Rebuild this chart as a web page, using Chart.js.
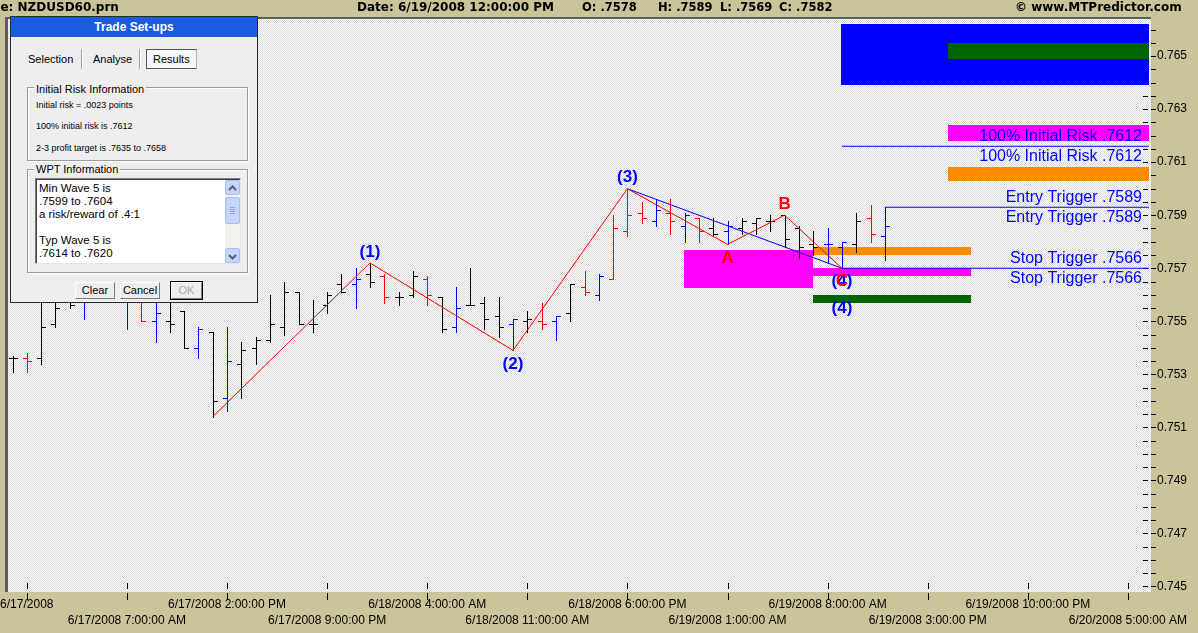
<!DOCTYPE html>
<html>
<head>
<meta charset="utf-8">
<script src="https://cdn.jsdelivr.net/npm/chart.js@4.4.1/dist/chart.umd.min.js"></script>
<style>
  body { margin: 0; overflow: hidden; background: #C9C49A; }
  #wrap { position: relative; width: 1198px; height: 633px; overflow: hidden; }
  #chart { position: absolute; left: 0; top: 0; }
  .abs { position: absolute; }
  .stat { position: absolute; top: 0; line-height: 15px; font: bold 12px "DejaVu Sans"; color: #000; white-space: pre; }
  .val { font-size: 11.5px; }
  .t { position: absolute; font: 11px "Liberation Sans"; color: #000; white-space: pre; line-height: 14px; }
  .small { position: absolute; font: 9px "Liberation Sans"; color: #000; white-space: pre; line-height: 10px; }
  .group { position: absolute; border: 1px solid #9C9C9C; box-shadow: 1px 1px 0 #fff, inset 1px 1px 0 #fff; box-sizing: border-box; }
  .legend { background: #EEEEEE; padding: 0 2px; }
  .btn { position: absolute; top: 282px; height: 17px; box-sizing: border-box; background: #EEEEEE;
         border: 1px solid; border-color: #fff #7A7A7A #7A7A7A #fff; font: 11px "Liberation Sans";
         text-align: center; line-height: 15px; color: #000; }
  .sb { position: absolute; left: 225px; width: 15px; box-sizing: border-box; background: #C6D5FB;
        border: 1px solid #A9BEF3; border-radius: 2px; }
</style>
</head>
<body>
<div id="wrap">
  <canvas id="chart" width="1198" height="633"></canvas>

  <!-- status bar -->
  <div class="stat" style="left:-16px">File: NZDUSD60.prn</div>
  <div class="stat" style="left:357px">Date: 6/19/2008 12:00:00 PM</div>
  <div class="stat val" id="statO" style="left:582px"></div>
  <div class="stat val" id="statH" style="left:658px"></div>
  <div class="stat val" id="statL" style="left:720px"></div>
  <div class="stat val" id="statC" style="left:779px"></div>
  <div class="stat" style="left:1015px">© www.MTPredictor.com</div>

  <!-- Trade Set-ups dialog -->
  <div class="abs" style="left:10px;top:16px;width:248px;height:287px;border:1px solid #2A2A2A;background:#EEEEEE;box-sizing:border-box"></div>
  <div class="abs" style="left:11px;top:17px;width:246px;height:20px;background:#1A5CE0;color:#fff;font:bold 12px 'Liberation Sans';text-align:center;line-height:20px">Trade Set-ups</div>

  <div class="t" style="left:28px;top:52px">Selection</div>
  <div class="abs" style="left:81px;top:49px;width:1px;height:20px;background:#A0A0A0;box-shadow:1px 0 0 #fff"></div>
  <div class="t" style="left:93px;top:52px">Analyse</div>
  <div class="abs" style="left:139px;top:49px;width:1px;height:20px;background:#A0A0A0;box-shadow:1px 0 0 #fff"></div>
  <div class="abs" style="left:146px;top:49px;width:51px;height:20px;box-sizing:border-box;border:1px solid;border-color:#555 #B0B0B0 #555 #555;background:#F6F6F6"></div>
  <div class="t" style="left:153px;top:52px">Results</div>

  <div class="group" style="left:27px;top:87px;width:221px;height:74px"></div>
  <div class="t legend" style="left:34px;top:82px">Initial Risk Information</div>
  <div class="small" style="left:36px;top:100px">Initial risk = .0023 points</div>
  <div class="small" style="left:36px;top:121px">100% initial risk is .7612</div>
  <div class="small" style="left:36px;top:143px">2-3 profit target is .7635 to .7658</div>

  <div class="group" style="left:27px;top:169px;width:221px;height:104px"></div>
  <div class="t legend" style="left:34px;top:162px">WPT Information</div>
  <div class="abs" style="left:35px;top:178px;width:206px;height:86px;box-sizing:border-box;background:#fff;border:1px solid;border-color:#7A7A7A #E6E6E6 #E6E6E6 #7A7A7A;box-shadow:inset 1px 1px 0 #404040"></div>
  <div class="abs" style="left:39px;top:182px;font:11.5px 'Liberation Sans';line-height:13px;white-space:pre;color:#000">Min Wave 5 is
.7599 to .7604
a risk/reward of .4:1

Typ Wave 5 is
.7614 to .7620</div>
  <div class="abs" style="left:225px;top:180px;width:15px;height:83px;background:#F3F2EE"></div>
  <div class="sb" style="top:180px;height:15px"><svg width="13" height="13"><polyline points="3,8 6.5,4.5 10,8" fill="none" stroke="#4D6185" stroke-width="2"/></svg></div>
  <div class="sb" style="top:197px;height:27px"><svg width="13" height="25"><path d="M4 9.5h5M4 11.5h5M4 13.5h5M4 15.5h5" stroke="#8EA5E0" stroke-width="1"/></svg></div>
  <div class="sb" style="top:248px;height:15px"><svg width="13" height="13"><polyline points="3,5 6.5,8.5 10,5" fill="none" stroke="#4D6185" stroke-width="2"/></svg></div>

  <div class="btn" style="left:75px;width:40px">Clear</div>
  <div class="btn" style="left:120px;width:40px">Cancel</div>
  <div class="btn" style="left:171px;width:31px;outline:1px solid #000;color:#A8A8A8">OK</div>
</div>

<script>
// hourly bars, hour 0 = 6/17/2008 12:00 AM
const hours = [-1, 0, 1, 2, 3, 4, 5, 6, 7, 8, 9, 10, 11, 12, 13, 14, 15, 16, 17, 18, 19, 20,
  21, 22, 23, 24, 25, 26, 27, 28, 29, 30, 31, 32, 33, 34, 35, 36, 37, 38, 39, 40,
  41, 42, 43, 44, 45, 46, 47, 48, 49, 50, 51, 52, 53, 54, 55, 56, 57, 58, 59, 60];
const opens = [.7532, .7532, .7532, .7545, .7556, .7558, .7556, .7562, .7555, .7555, .7546, .7546, .7550, .7536, .7542, .7517, .7530, .7536, .7539, .7544, .7557, .7545,
  .7552, .7560, .7560, .7564, .7563, .7555, .7556, .7562, .7555, .7544, .7552, .7553, .7548, .7545, .7546, .7546, .7546, .7549, .7559, .7556,
  .7562, .7580, .7587, .7584, .7587, .7582, .7585, .7581, .7580, .7581, .7583, .7584, .7586, .7581, .7575, .7575, .7574, .7575, .7585, .7578];
const highs = [.7533, .7534, .7557, .7560, .7562, .7564, .7566, .7568, .7560, .7560, .7554, .7556, .7550, .7544, .7542, .7544, .7538, .7540, .7556, .7561, .7557, .7554,
  .7557, .7564, .7566, .7568, .7564, .7557, .7565, .7563, .7555, .7559, .7566, .7555, .7555, .7547, .7550, .7553, .7548, .7560, .7565, .7564,
  .7586, .7596, .7591, .7592, .7592, .7587, .7585, .7585, .7584, .7585, .7585, .7586, .7586, .7582, .7580, .7581, .7576, .7587, .7590, .7589];
const lows = [.7527, .7527, .7530, .7544, .7551, .7547, .7554, .7555, .7543, .7546, .7538, .7542, .7536, .7532, .7510, .7512, .7517, .7530, .7538, .7541, .7545, .7542,
  .7549, .7557, .7551, .7559, .7553, .7552, .7555, .7552, .7542, .7542, .7552, .7543, .7540, .7535, .7542, .7543, .7539, .7546, .7556, .7554,
  .7562, .7578, .7583, .7582, .7579, .7576, .7576, .7578, .7575, .7579, .7579, .7580, .7574, .7570, .7571, .7568, .7566, .7572, .7576, .7569];
const closes = [.7532, .7531, .7544, .7551, .7552, .7556, .7562, .7558, .7556, .7546, .7549, .7545, .7536, .7543, .7516, .7531, .7535, .7539, .7545, .7557, .7545, .7545,
  .7556, .7557, .7562, .7561, .7555, .7555, .7563, .7556, .7543, .7551, .7552, .7547, .7544, .7547, .7547, .7545, .7548, .7560, .7557, .7563,
  .7581, .7586, .7585, .7588, .7584, .7586, .7580, .7579, .7582, .7584, .7585, .7584, .7577, .7574, .7574, .7575, .7576, .7584, .7579, .7582];
// 0 = plain bar, 1 = red bar, 2 = blue bar
const barGroup = [0, 1, 0, 0, 0, 2, 0, 0, 2, 1, 2, 0, 0, 2, 0, 2, 0, 0, 0, 0, 0, 0,
  0, 0, 2, 0, 1, 0, 0, 1, 0, 2, 0, 0, 0, 2, 0, 1, 2, 0, 1, 2,
  1, 1, 1, 2, 1, 2, 1, 0, 2, 0, 0, 0, 0, 0, 0, 2, 2, 0, 1, 2];

// wave count
const waveHours = [13, 24, 34, 42, 49, 53, 57];
const wavePrices = [0.7510, 0.7568, 0.7535, 0.7596, 0.7575, 0.7586, 0.7566];
const waveNames = ['', '(1)', '(2)', '(3)', 'A', 'B', 'C'];

// trigger levels
const levelNames = ['100% Initial Risk', 'Entry Trigger', 'Stop Trigger'];
const levelPrices = [0.7612, 0.7589, 0.7566];
const levelStart = [57, 60, 57];

// target zones: profit target, wave 5 zones, and the lower zones
const zoneFrom = [56.95, 64.4, 64.4, 64.4, 45.95, 55, 55, 55];
const zoneTo = [78.47, 78.47, 78.47, 78.47, 54.97, 66, 66, 66];
const zoneLow = [0.7635, 0.7645, 0.7614, 0.7599, 0.75585, 0.7571, 0.7563, 0.7553];
const zoneHigh = [0.7658, 0.7651, 0.7620, 0.7604, 0.7573, 0.7574, 0.7566, 0.7556];
const zoneColors = ['#0000FF', '#006400', '#FF00FF', '#FF8C00', '#FF00FF', '#FF8C00', '#FF00FF', '#006400'];

// axes
const xTickHours = [0, 7, 14, 21, 28, 35, 42, 49, 56, 63, 70, 77];
const xTickLabels = ['6/17/2008', '6/17/2008 7:00:00 AM', '6/17/2008 2:00:00 PM', '6/17/2008 9:00:00 PM',
  '6/18/2008 4:00:00 AM', '6/18/2008 11:00:00 AM', '6/18/2008 6:00:00 PM', '6/19/2008 1:00:00 AM',
  '6/19/2008 8:00:00 AM', '6/19/2008 3:00:00 PM', '6/19/2008 10:00:00 PM', '6/20/2008 5:00:00 AM'];
const yTickLabels = ['0.745', '0.747', '0.749', '0.751', '0.753', '0.755', '0.757', '0.759', '0.761', '0.763', '0.765'];
const yLabelShift = 0.0004;   // the program prints its price labels 4 pips above their tick
const xMin = -1.315, xMax = 78.615;
const yMin = 0.74439, yMax = 0.7660;

const barColors = ['#000000', '#FF0000', '#0000FF'];
const fmt = v => v.toFixed(4).slice(1);

// status bar values come from the last bar
const last = hours.length - 1;
document.getElementById('statO').textContent = 'O: ' + fmt(opens[last]);
document.getElementById('statH').textContent = 'H: ' + fmt(highs[last]);
document.getElementById('statL').textContent = 'L: ' + fmt(lows[last]);
document.getElementById('statC').textContent = 'C: ' + fmt(closes[last]);

// minor ticks every .0005, a label every fourth one
const yTicks = [];
const firstTick = Number(yTickLabels[0]) - yLabelShift;
for (let k = 0; firstTick + k * 0.0005 <= yMax; k++) yTicks.push(+(firstTick + k * 0.0005).toFixed(5));

function dither(a, b) {
  const c = document.createElement('canvas');
  c.width = 2; c.height = 2;
  const g = c.getContext('2d');
  g.fillStyle = a; g.fillRect(0, 0, 2, 2);
  g.fillStyle = b; g.fillRect(0, 0, 1, 1); g.fillRect(1, 1, 1, 1);
  return g.createPattern(c, 'repeat');
}

const background = {
  id: 'background',
  beforeDraw(chart) {
    const {ctx, chartArea: a, width, height} = chart;
    ctx.save();
    ctx.fillStyle = '#C9C49A';
    ctx.fillRect(0, 0, width, height);
    ctx.fillStyle = dither('#FFFFFF', '#D8D8D8');
    ctx.fillRect(a.left, a.top, a.right - a.left, a.bottom - a.top);
    ctx.fillStyle = '#5E5E5E';
    ctx.fillRect(5, a.top - 2, a.right - 5, 2);
    ctx.fillRect(5, a.top - 2, 3, a.bottom - a.top + 2);
    ctx.restore();
  }
};

const tickMarks = {
  id: 'tickMarks',
  beforeDatasetsDraw(chart) {
    const {ctx, chartArea: a, scales: {x, y}} = chart;
    ctx.save();
    ctx.strokeStyle = '#000';
    ctx.lineWidth = 1;
    ctx.beginPath();
    y.ticks.forEach(t => {
      const py = Math.round(y.getPixelForValue(t.value)) + 0.5;
      ctx.moveTo(a.right - 8, py); ctx.lineTo(a.right - 3, py);
      ctx.moveTo(a.right, py); ctx.lineTo(a.right + 5, py);
    });
    x.ticks.forEach(t => {
      const px = Math.round(x.getPixelForValue(t.value)) + 0.5;
      ctx.moveTo(px, a.bottom - 9); ctx.lineTo(px, a.bottom - 3);
      ctx.moveTo(px, a.bottom + 1); ctx.lineTo(px, a.bottom + 8);
    });
    ctx.stroke();
    ctx.restore();
  }
};

const zones = {
  id: 'zones',
  beforeDatasetsDraw(chart) {
    const {ctx, scales: {x, y}} = chart;
    ctx.save();
    zoneFrom.forEach((f, i) => {
      const x0 = Math.round(x.getPixelForValue(f)), x1 = Math.round(x.getPixelForValue(zoneTo[i]));
      const y0 = Math.round(y.getPixelForValue(zoneHigh[i])), y1 = Math.round(y.getPixelForValue(zoneLow[i]));
      ctx.fillStyle = zoneColors[i];
      ctx.fillRect(x0, y0, x1 - x0, y1 - y0);
    });
    ctx.restore();
  }
};

const ohlc = {
  id: 'ohlc',
  beforeDatasetsDraw(chart) {
    const {ctx, scales: {x, y}} = chart;
    ctx.save();
    ctx.lineWidth = 1;
    hours.forEach((h, i) => {
      const px = Math.round(x.getPixelForValue(h)) + 0.5;
      const pH = Math.round(y.getPixelForValue(highs[i]));
      const pL = Math.round(y.getPixelForValue(lows[i]));
      const pO = Math.round(y.getPixelForValue(opens[i])) + 0.5;
      const pC = Math.round(y.getPixelForValue(closes[i])) + 0.5;
      ctx.strokeStyle = barColors[barGroup[i]];
      ctx.beginPath();
      ctx.moveTo(px, pH); ctx.lineTo(px, pL + 1);
      ctx.moveTo(px - 4.5, pO); ctx.lineTo(px, pO);
      ctx.moveTo(px, pC); ctx.lineTo(px + 4.5, pC);
      ctx.stroke();
    });
    ctx.restore();
  }
};

const texts = {
  id: 'texts',
  afterDatasetsDraw(chart) {
    const {ctx, chartArea: a, scales: {x, y}} = chart;
    ctx.save();
    ctx.font = '16px "Liberation Sans"';
    ctx.fillStyle = '#0000FF';
    ctx.textAlign = 'right';
    ctx.textBaseline = 'alphabetic';
    levelNames.forEach((n, i) => {
      const py = y.getPixelForValue(levelPrices[i]);
      const label = n + ' ' + fmt(levelPrices[i]);
      ctx.fillText(label, a.right - 9, py - 5);
      ctx.fillText(label, a.right - 9, py + 15);
    });

    ctx.font = 'bold 17px "Liberation Sans"';
    ctx.textAlign = 'center';
    ctx.textBaseline = 'middle';
    const put = (text, i, dy, color) => {
      ctx.fillStyle = color;
      ctx.fillText(text, x.getPixelForValue(waveHours[i]), y.getPixelForValue(wavePrices[i]) + dy);
    };
    waveNames.forEach((n, i) => {
      if (!n) return;
      const isHigh = i > 0 && wavePrices[i] > wavePrices[i - 1];
      const dy = isHigh ? -11 : 13.5;
      if (n === 'C') put('(4)', i, dy, '#0000FF');
      put(n, i, dy, n.startsWith('(') ? '#0000FF' : '#FF0000');
    });
    put('(4)', waveNames.length - 1, 40, '#0000FF');
    ctx.restore();
  }
};

const levelData = levelNames.map((n, i) => ({
  data: [{x: levelStart[i], y: levelPrices[i]}, {x: zoneTo[0], y: levelPrices[i]}],
  borderColor: '#0000FF'
}));

new Chart(document.getElementById('chart'), {
  type: 'line',
  data: {
    datasets: [
      {data: waveHours.map((h, i) => ({x: h, y: wavePrices[i]})), borderColor: '#FF0000'},
      {data: [{x: waveHours[3], y: wavePrices[3]}, {x: waveHours[6], y: wavePrices[6]}], borderColor: '#0000FF'},
      ...levelData
    ]
  },
  options: {
    responsive: false,
    animation: false,
    layout: {padding: {top: 19, left: 8}},
    plugins: {legend: {display: false}, tooltip: {enabled: false}},
    elements: {line: {borderWidth: 1, tension: 0}, point: {radius: 0}},
    scales: {
      x: {
        type: 'linear', min: xMin, max: xMax,
        afterBuildTicks: s => { s.ticks = xTickHours.map(v => ({value: v})); },
        afterFit: s => { s.height = 41; s.paddingLeft = 0; s.paddingRight = 0; },
        grid: {drawOnChartArea: false, drawTicks: false},
        border: {display: false},
        ticks: {
          autoSkip: false, maxRotation: 0, minRotation: 0, padding: 5, color: '#000',
          font: {family: 'Liberation Sans', size: 12, lineHeight: 16 / 12},
          callback: (v, i) => i % 2 ? ['', xTickLabels[i]] : xTickLabels[i]
        }
      },
      y: {
        type: 'linear', position: 'right', min: yMin, max: yMax,
        afterBuildTicks: s => { s.ticks = yTicks.map(v => ({value: v})); },
        afterFit: s => { s.width = 47; s.paddingTop = 0; s.paddingBottom = 0; },
        grid: {drawOnChartArea: false, drawTicks: false},
        border: {display: false},
        ticks: {
          autoSkip: false, padding: 6, color: '#000',
          font: {family: 'Liberation Sans', size: 12},
          callback: (v, i) => i % 4 === 0 ? yTickLabels[i / 4] : ''
        }
      }
    }
  },
  plugins: [background, tickMarks, zones, ohlc, texts]
});
</script>
</body>
</html>
